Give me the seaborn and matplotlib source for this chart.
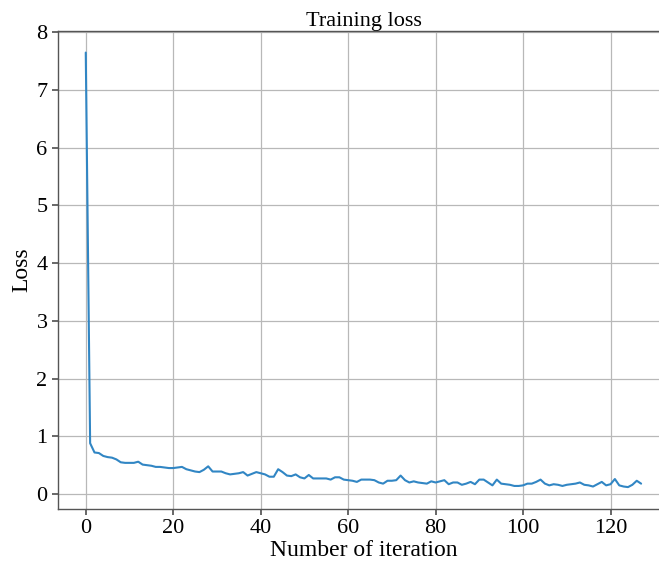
"""Training loss curve."""

import matplotlib

matplotlib.use("Agg")
import matplotlib.pyplot as plt
import pandas as pd
import seaborn as sns

# Loss per iteration
iterations = list(range(128))
loss = [
    7.65, 0.88, 0.72, 0.71, 0.66, 0.64, 0.63, 0.60, 0.55, 0.54,
    0.54, 0.54, 0.56, 0.51, 0.50, 0.49, 0.47, 0.47, 0.46, 0.45,
    0.45, 0.46, 0.47, 0.43, 0.41, 0.39, 0.38, 0.42, 0.48, 0.39,
    0.39, 0.39, 0.36, 0.34, 0.35, 0.36, 0.38, 0.32, 0.35, 0.38,
    0.36, 0.34, 0.30, 0.30, 0.43, 0.38, 0.32, 0.31, 0.34, 0.29,
    0.27, 0.33, 0.27, 0.27, 0.27, 0.27, 0.25, 0.29, 0.29, 0.25,
    0.24, 0.23, 0.21, 0.25, 0.25, 0.25, 0.24, 0.20, 0.18, 0.23,
    0.23, 0.24, 0.32, 0.24, 0.20, 0.22, 0.20, 0.19, 0.18, 0.22,
    0.20, 0.22, 0.24, 0.17, 0.20, 0.20, 0.16, 0.18, 0.21, 0.17,
    0.25, 0.25, 0.20, 0.15, 0.25, 0.18, 0.17, 0.16, 0.14, 0.14,
    0.15, 0.18, 0.18, 0.21, 0.25, 0.18, 0.15, 0.17, 0.16, 0.14,
    0.16, 0.17, 0.18, 0.20, 0.16, 0.15, 0.13, 0.17, 0.21, 0.15,
    0.17, 0.26, 0.15, 0.13, 0.12, 0.16, 0.23, 0.18,
]
title = "Training loss"
x_label = "Number of iteration"
y_label = "Loss"

df = pd.DataFrame({"iteration": iterations, "loss": loss})

sns.set_theme(style="ticks")
plt.rcParams["font.family"] = ["Liberation Serif", "DejaVu Serif"]
plt.rcParams["text.color"] = "black"
plt.rcParams["axes.labelcolor"] = "black"

fig = plt.figure(figsize=(6.59, 5.61), dpi=100)
# the reference is cropped on the right, so the axes run past the figure edge
ax = fig.add_axes([0.088, 0.093, 0.927, 0.852])

sns.lineplot(data=df, x="iteration", y="loss", color="#3186c4", linewidth=1.5, ax=ax)

ax.set_xlim(-6.35, 133.35)
ax.grid(True, color="#b8b8b8", linewidth=0.9)
ax.set_axisbelow(True)
for side in ["left", "bottom", "top"]:
    ax.spines[side].set_color("#555555")
    ax.spines[side].set_linewidth(1.0)
ax.spines["right"].set_visible(False)

ax.set_yticks(range(0, 9))
ax.set_xticks(range(0, 121, 20))
ax.tick_params(labelsize=16, length=4, color="#555555", labelcolor="black")
ax.set_title(title, fontsize=16, pad=3)
ax.set_xlabel(x_label, fontsize=17, labelpad=1)
ax.set_ylabel(y_label, fontsize=17, labelpad=3)

fig.savefig("out.png", dpi=100)
plt.close(fig)
